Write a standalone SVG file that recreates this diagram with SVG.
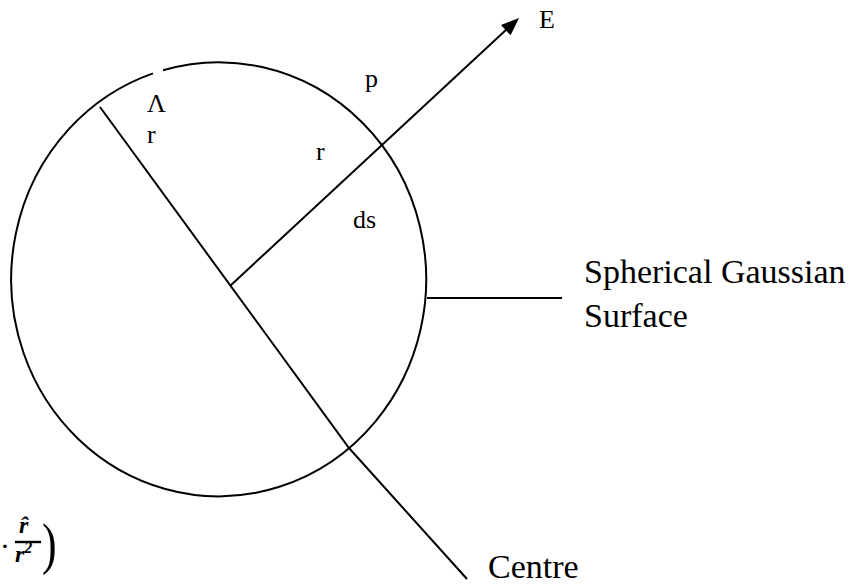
<svg xmlns="http://www.w3.org/2000/svg" width="851" height="586" viewBox="0 0 851 586">
<style>
.ln{fill:none;stroke:#000;stroke-width:2}
.lbl{font-family:"Liberation Serif","Times New Roman",serif;font-size:26px;fill:#000}
.big{font-family:"Liberation Serif","Times New Roman",serif;font-size:34px;fill:#000}
.math{font-family:"Liberation Serif","Times New Roman",serif;font-weight:bold;font-style:italic;fill:#000}
</style>
<rect width="851" height="586" fill="#fff"/>
<g id="surface">
<path class="ln" d="M163,70.2 A207.5,217 0 1 1 153,73.4"/>
</g>
<g id="connectors">
<polyline class="ln" points="100,107 349,448 467,579"/>
<line class="ln" x1="230" y1="286" x2="507" y2="29" stroke-width="2.8"/>
<polygon points="519,18 510.6,35.3 501,25.1" fill="#000"/>
<line class="ln" x1="427" y1="298" x2="562" y2="298"/>
</g>
<g id="label-lambda"><text class="lbl" x="147" y="112">Λ</text></g>
<g id="label-r1"><text class="lbl" x="147" y="143">r</text></g>
<g id="label-p"><text class="lbl" x="365" y="87">p</text></g>
<g id="label-r2"><text class="lbl" x="316" y="160">r</text></g>
<g id="label-ds"><text class="lbl" x="353" y="228">ds</text></g>
<g id="label-E"><text class="lbl" x="539" y="28">E</text></g>
<g id="label-surface"><text class="big" x="584" y="283">Spherical Gaussian</text><text class="big" x="584" y="327">Surface</text></g>
<g id="label-centre"><text class="big" x="488" y="578">Centre</text></g>
<g id="formula">
<text class="math" x="2" y="553" font-size="22">·</text>
<text class="math" x="19" y="533" font-size="24">r̂</text>
<line x1="15" y1="542" x2="41" y2="542" stroke="#000" stroke-width="2.4"/>
<text class="math" x="15" y="562" font-size="24">r<tspan font-size="16" dy="-9">2</tspan></text>
<text x="0" y="0" font-family="Liberation Serif, serif" font-size="44" fill="#000" transform="translate(42,563) scale(1,1.3)">)</text>
</g>
</svg>
